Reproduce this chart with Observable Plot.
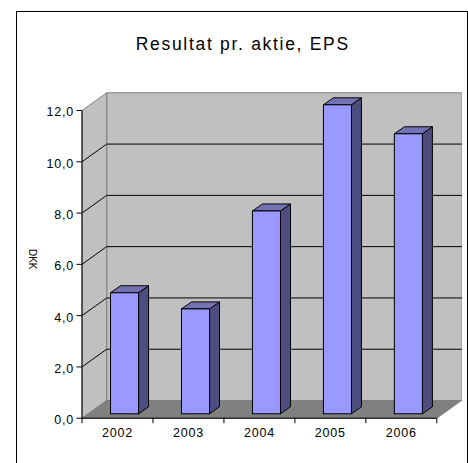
<!DOCTYPE html>
<html><head><meta charset="utf-8">
<script src="https://cdn.jsdelivr.net/npm/d3@7"></script>
<script src="https://cdn.jsdelivr.net/npm/@observablehq/plot@0.6"></script>
<style>
html,body{margin:0;padding:0;background:#fff;overflow:hidden;height:463px}
svg{display:block;position:absolute;left:0;top:0;background:transparent}
#frame{position:absolute;left:16px;top:11px;width:450px;height:460px;border:1.3px solid #000}
.chart-title{letter-spacing:1.7px}
.chart-ticks{letter-spacing:.8px}
</style>
</head><body><div id="frame"></div><div id="chart"></div>
<script>
const years = ["2002","2003","2004","2005","2006"];
const eps = [4.72,4.09,7.91,12.05,10.92];
const yTicks = [0,2,4,6,8,10,12];
const title = "Resultat pr. aktie, EPS";
const yLabel = "DKK";

// Oblique depth of the chart box, in data units
const depthX = 0.348, depthY = 0.69;
const barDepthX = 0.141, barDepthY = 0.273;
const barOffsetX = 0.402, barWidth = 0.395, barBaseY = 0.172;
const n = years.length;

const poly = (pts, o) => Plot.line([...pts, pts[0]], {x:d=>d[0], y:d=>d[1], strokeLinejoin:"miter", strokeWidth:1, ...o});

const marks = [];
// back wall, side wall, floor
marks.push(poly([[depthX,depthY],[n+depthX,depthY],[n+depthX,12+depthY],[depthX,12+depthY]],{fill:"#c0c0c0",stroke:"#808080"}));
marks.push(Plot.ruleX([n+depthX],{y1:depthY,y2:12+depthY,stroke:"#a6a6a6",strokeWidth:1}));
marks.push(poly([[0,0],[depthX,depthY],[depthX,12+depthY],[0,12]],{fill:"#c0c0c0",stroke:"#808080"}));
marks.push(poly([[0,0],[n,0],[n+depthX,depthY],[depthX,depthY]],{fill:"#808080",stroke:"#808080"}));
// gridlines on the walls
for (const t of yTicks.slice(1,-1)) {
  marks.push(Plot.line([[0,t],[depthX,t+depthY],[n+depthX,t+depthY]],{x:d=>d[0],y:d=>d[1],stroke:"#000",strokeWidth:1}));
}
// bars
eps.forEach((v,i)=>{
  const x0=i+barOffsetX, x1=x0+barWidth, y0=barBaseY, y1=y0+v;
  marks.push(poly([[x1,y0],[x1+barDepthX,y0+barDepthY],[x1+barDepthX,y1+barDepthY],[x1,y1]],{fill:"#4d4d80",stroke:"#000"}));
  marks.push(poly([[x0,y1],[x1,y1],[x1+barDepthX,y1+barDepthY],[x0+barDepthX,y1+barDepthY]],{fill:"#7373b3",stroke:"#000"}));
  marks.push(poly([[x0,y0],[x1,y0],[x1,y1],[x0,y1]],{fill:"#9999ff",stroke:"#000"}));
});
// axes
const fmt = d=>d3.format(".1f")(d).replace(".",",");
marks.push(Plot.ruleX([0],{y1:0,y2:12,stroke:"#000",strokeWidth:1}));
marks.push(Plot.ruleY([0],{x1:0,x2:n,stroke:"#000",strokeWidth:1}));
marks.push(Plot.axisY(yTicks,{anchor:"left",tickSize:5,text:null,label:null,stroke:"#000",strokeWidth:1}));
marks.push(Plot.axisY(yTicks,{anchor:"left",tickSize:0,tickPadding:8,dy:2,label:null,tickFormat:fmt,fontSize:12.5,fill:"#000",className:"chart-ticks"}));
marks.push(Plot.axisX(d3.range(n+1),{anchor:"bottom",tickSize:5.5,text:null,label:null,stroke:"#000",strokeWidth:1}));
marks.push(Plot.text(years,{x:(d,i)=>i+0.5,y:0,dy:15,text:d=>d,fontSize:12.5,fill:"#000",className:"chart-ticks"}));
marks.push(Plot.text([title],{frameAnchor:"top",dy:-55,dx:-29,fontSize:17.5,fill:"#000",text:d=>d,className:"chart-title"}));
marks.push(Plot.text([yLabel],{x:0,y:6.2,dx:-50,rotate:90,fontSize:10,fill:"#000",text:d=>d}));

const plot = Plot.plot({
  width:468,height:463,
  marginLeft:81.5,marginRight:7,marginTop:92.3,marginBottom:45.3,
  style:{fontFamily:"'Liberation Sans',Arial,sans-serif",background:"transparent",overflow:"visible"},
  x:{domain:[0,n+depthX],axis:null},
  y:{domain:[0,12+depthY],axis:null},
  marks
});
document.getElementById("chart").append(plot);
</script></body></html>
